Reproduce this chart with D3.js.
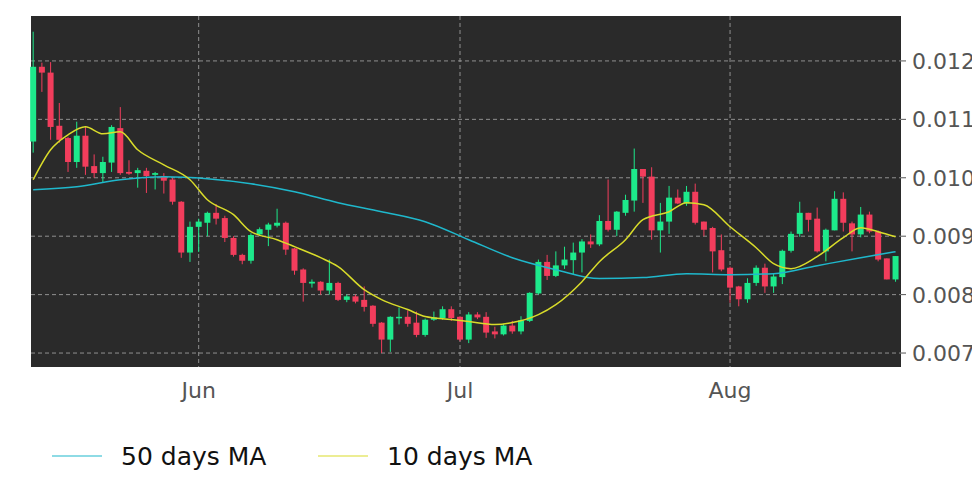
<!DOCTYPE html>
<html><head><meta charset="utf-8">
<script src="https://cdn.jsdelivr.net/npm/d3@7"></script>
<style>body{margin:0;background:#fff}svg{display:block}</style>
</head><body><svg id="c" width="972" height="486"></svg>
<script>
// candles: [open, close, high, low], daily from May 13
const ohlc = [
[0.01062,0.0119,0.0125,0.01043],[0.0119,0.0118,0.01197,0.01147],[0.0118,0.01087,0.01198,0.01065],
[0.01089,0.01065,0.01128,0.0106],[0.01068,0.01027,0.0107,0.0101],[0.01027,0.01072,0.01096,0.01017],
[0.01072,0.01019,0.01087,0.01005],[0.0102,0.01008,0.0104,0.0100],[0.01008,0.01027,0.01036,0.00991],
[0.01026,0.01087,0.0109,0.0101],[0.01085,0.01008,0.01121,0.01005],[0.0101,0.01007,0.0103,0.01005],
[0.01008,0.01013,0.01017,0.00983],[0.01012,0.01003,0.01017,0.00974],[0.01005,0.01008,0.0101,0.0098],
[0.01003,0.00995,0.01008,0.00973],[0.00997,0.00959,0.01,0.00954],[0.00959,0.00872,0.0096,0.00863],
[0.00872,0.00916,0.00925,0.00856],[0.00916,0.00925,0.0093,0.00873],[0.00923,0.0094,0.00942,0.009],
[0.0094,0.0093,0.00955,0.0092],[0.00931,0.00897,0.00935,0.0089],[0.00897,0.00868,0.009,0.00865],
[0.00868,0.00858,0.0087,0.00852],[0.00858,0.00902,0.00905,0.00853],[0.00903,0.00912,0.00915,0.009],
[0.00911,0.0092,0.00923,0.00883],[0.00918,0.00923,0.00947,0.00915],[0.00923,0.00877,0.00925,0.00868],
[0.00879,0.00841,0.0088,0.00834],[0.00843,0.0082,0.00845,0.00788],[0.00819,0.00822,0.00826,0.00812],
[0.00822,0.00807,0.00823,0.008],[0.00807,0.0082,0.0086,0.008],[0.0082,0.00791,0.00822,0.00789],
[0.00791,0.00797,0.008,0.00787],[0.00797,0.00788,0.008,0.00785],[0.00791,0.00779,0.00814,0.00771],
[0.00781,0.0075,0.00782,0.00745],[0.00752,0.00723,0.00753,0.007],[0.00723,0.00762,0.00763,0.00702],
[0.00761,0.00762,0.00778,0.00749],[0.00762,0.0075,0.00773,0.00745],[0.00752,0.00731,0.00771,0.00727],
[0.00731,0.00757,0.00759,0.00728],[0.00757,0.00761,0.00771,0.00755],[0.0076,0.00775,0.0078,0.00757],
[0.00775,0.0076,0.0078,0.00755],[0.00762,0.00723,0.00763,0.0072],[0.00723,0.00766,0.0077,0.00717],
[0.00766,0.00761,0.0077,0.00758],[0.00762,0.00735,0.0077,0.00726],[0.00737,0.00732,0.00745,0.00725],
[0.00732,0.00747,0.0075,0.0073],[0.00747,0.00737,0.00755,0.00733],[0.00737,0.00756,0.00763,0.00732],
[0.00755,0.00803,0.00804,0.00753],[0.00802,0.00856,0.0086,0.008],[0.00856,0.00832,0.00868,0.00825],
[0.00832,0.0085,0.00874,0.0083],[0.0085,0.0086,0.00882,0.00844],[0.00859,0.00872,0.00889,0.00835],
[0.00872,0.00891,0.00895,0.00838],[0.00891,0.00886,0.00903,0.0088],[0.00886,0.00926,0.00936,0.00883],
[0.00926,0.00911,0.00997,0.00908],[0.00911,0.00942,0.00943,0.009],[0.0094,0.00962,0.00971,0.00935],
[0.00961,0.01015,0.0105,0.00942],[0.01015,0.01002,0.01015,0.00957],[0.01002,0.0091,0.01018,0.00894],
[0.0091,0.00925,0.00957,0.00872],[0.00925,0.00966,0.00986,0.00904],[0.00966,0.00956,0.0098,0.00955],
[0.00956,0.00976,0.00986,0.00952],[0.00976,0.00923,0.0099,0.0092],[0.00925,0.00911,0.00925,0.009],
[0.00914,0.00874,0.00916,0.00838],[0.00876,0.00843,0.00903,0.0084],[0.00846,0.00812,0.00848,0.00786],
[0.00814,0.00792,0.00815,0.0078],[0.00792,0.0082,0.00828,0.00786],[0.0082,0.00846,0.0085,0.00815],
[0.00846,0.00814,0.00853,0.00803],[0.00814,0.00831,0.00837,0.00803],[0.0083,0.00875,0.00877,0.00818],
[0.00875,0.00904,0.00908,0.00872],[0.00904,0.0094,0.00959,0.00899],[0.0094,0.00928,0.0094,0.00908],
[0.0093,0.00874,0.00949,0.00872],[0.00874,0.00911,0.00913,0.00857],[0.0091,0.00964,0.00977,0.0091],
[0.00964,0.00923,0.00975,0.00908],[0.00922,0.00903,0.00925,0.00874],[0.00903,0.00937,0.0095,0.00898],
[0.00937,0.00908,0.00942,0.00905],[0.00908,0.0086,0.0091,0.00857],[0.00862,0.00826,0.00862,0.00826],
[0.00826,0.00866,0.00866,0.00822]
];
// moving averages read at candle indices: [index, value]
const ma10 = [[0,0.009966],[2,0.010479],[4,0.010735],[6,0.010872],[8,0.010752],[10,0.010786],[12,0.010479],
[15,0.010222],[18,0.009966],[20,0.009624],[23,0.009368],[25,0.009077],[28,0.00894],[30,0.008821],[33,0.008632],
[35,0.008479],[38,0.008085],[40,0.007915],[43,0.007744],[45,0.007624],[48,0.007573],[50,0.007538],[53,0.007487],
[55,0.007521],[58,0.007658],[60,0.007829],[63,0.008222],[65,0.008564],[68,0.00894],[70,0.009282],[73,0.009419],
[75,0.009573],[77,0.009538],[80,0.009162],[83,0.008803],[85,0.00853],[87,0.008444],[90,0.00865],[93,0.008974],
[95,0.009145],[97,0.009077],[99,0.008991]];
const ma50 = [[0,0.009795],[5,0.009846],[10,0.009966],[15,0.010017],[20,0.009983],[25,0.009897],[30,0.009761],
[35,0.009573],[40,0.009419],[45,0.009248],[50,0.00894],[55,0.008632],[60,0.008427],[65,0.008274],[70,0.008291],
[75,0.008359],[80,0.008342],[85,0.008359],[90,0.008496],[95,0.008632],[99,0.008735]];
const yTicks = [0.007,0.008,0.009,0.010,0.011,0.012];
const xTickLabels = ["Jun","Jul","Aug"];
const xTickDates = [new Date(2021,5,1),new Date(2021,6,1),new Date(2021,7,1)];
const legendLabels = ["50 days MA","10 days MA"];

const day = i => new Date(2021,4,13+i);
const L=31,R=901,T=16,B=367;
const svg=d3.select("#c");
const x=d3.scaleTime().domain([new Date(2021,4,12,18),new Date(2021,7,20,15)]).range([L,R]);
const y=d3.scaleLinear().domain([0.006761,0.012769]).range([B,T]);
svg.append("rect").attr("x",L).attr("y",T).attr("width",R-L).attr("height",B-T).attr("fill","#2a2a2a");
const g=svg.append("g");
g.selectAll(".hg").data(yTicks).join("line").attr("x1",L).attr("x2",R).attr("y1",d=>y(d)).attr("y2",d=>y(d))
 .attr("stroke","#aaa").attr("stroke-dasharray","4,3").attr("stroke-width",0.8);
g.selectAll(".vg").data(xTickDates).join("line").attr("y1",T).attr("y2",B).attr("x1",d=>x(d)).attr("x2",d=>x(d))
 .attr("stroke","#aaa").attr("stroke-dasharray","4,3").attr("stroke-width",0.8);
const up="#1de98b",dn="#f23d5c";
const c=g.selectAll(".cd").data(ohlc).join("g");
c.append("line").attr("x1",(d,i)=>x(day(i))).attr("x2",(d,i)=>x(day(i))).attr("y1",d=>y(d[2])).attr("y2",d=>y(d[3]))
 .attr("stroke",d=>d[1]>=d[0]?up:dn).attr("stroke-width",1);
c.append("rect").attr("x",(d,i)=>x(day(i))-3).attr("width",6)
 .attr("y",d=>y(Math.max(d[0],d[1]))).attr("height",d=>Math.max(1.5,Math.abs(y(d[0])-y(d[1]))))
 .attr("fill",d=>d[1]>=d[0]?up:dn);
const line=d3.line().x(d=>x(day(d[0]))).y(d=>y(d[1])).curve(d3.curveMonotoneX);
g.append("path").attr("d",line(ma50)).attr("fill","none").attr("stroke","#1fb8cc").attr("stroke-width",1.5);
g.append("path").attr("d",line(ma10)).attr("fill","none").attr("stroke","#d9dc2a").attr("stroke-width",1.5);
svg.selectAll(".yl").data(yTicks).join("text").attr("x",912).attr("y",d=>y(d)+8).text(d=>d.toFixed(4))
 .attr("font-family","DejaVu Sans").attr("font-size",22).attr("fill","#555");
svg.selectAll(".yt").data(yTicks).join("line").attr("x1",R).attr("x2",R+5).attr("y1",d=>y(d)).attr("y2",d=>y(d)).attr("stroke","#555");
svg.selectAll(".xl").data(xTickDates).join("text").attr("x",d=>x(d)).attr("y",398).attr("text-anchor","middle")
 .text((d,i)=>xTickLabels[i]).attr("font-family","DejaVu Sans").attr("font-size",22).attr("fill","#555");
const cols=["#1fb8cc","#d9dc2a"],lx=[52,318];
legendLabels.forEach((t,i)=>{
 svg.append("line").attr("x1",lx[i]).attr("x2",lx[i]+50).attr("y1",456).attr("y2",456).attr("stroke",cols[i]).attr("stroke-width",1.2);
 svg.append("text").attr("x",lx[i]+69).attr("y",465).text(t).attr("font-family","DejaVu Sans").attr("font-size",25).attr("fill","#111");
});
</script></body></html>
